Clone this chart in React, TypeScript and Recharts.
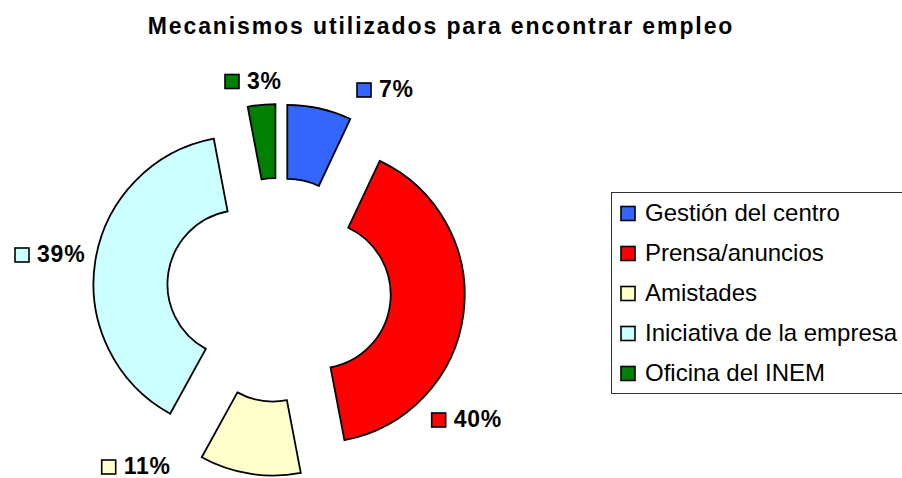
import React from 'react';
import { PieChart, Pie, Cell, Legend } from 'recharts';

// ---- data ----
const categories = [
  'Gestión del centro',
  'Prensa/anuncios',
  'Amistades',
  'Iniciativa de la empresa',
  'Oficina del INEM',
];
const values = [7, 40, 11, 39, 3];
const colors = ['#3366FF', '#FF0000', '#FFFFCC', '#CCFFFF', '#008000'];
const title = 'Mecanismos utilizados para encontrar empleo';

const data = categories.map((name, i) => ({ name, value: values[i] }));
const total = values.reduce((a, b) => a + b, 0);

// ---- layout ----
const W = 902;
const H = 478;
const CX = 279;
const CY = 290;
const R_OUT = 148;
const R_IN = 74;
const EXPLODE = 38;
const FONT = '"Liberation Sans", Arial, sans-serif';
// label group anchor (left of key square, text baseline) relative to pie centre
const LABEL_OFFSETS: [number, number][] = [
  [78, -193],
  [152.7, 137],
  [-177.3, 184],
  [-264, -28],
  [-54, -201.5],
];

let cum = 0;
const explodeOffsets = values.map((v) => {
  const mid = ((cum + v / 2) / total) * 2 * Math.PI;
  cum += v;
  return [EXPLODE * Math.sin(mid), -EXPLODE * Math.cos(mid)];
});

const makeLabel = (i: number) => (props: any) => {
  if (props.index !== i) return null;
  const [dx, dy] = LABEL_OFFSETS[i];
  const x = CX + dx;
  const y = CY + dy;
  const pct = Math.round((values[i] / total) * 100) + '%';
  return (
    <g>
      <rect x={x} y={y - 14} width={14} height={14} fill={colors[i]} stroke="#000" strokeWidth={1.6} />
      <text
        x={x + 22}
        y={y}
        fontFamily={FONT}
        fontWeight="bold"
        fontSize={23}
        letterSpacing={0.8}
        fill="#000"
      >
        {pct}
      </text>
    </g>
  );
};

const LegendBox = () => (
  <svg width={W - 611} height={203} style={{ display: 'block' }}>
    <rect x={0.5} y={0.5} width={320} height={201} fill="#fff" stroke="#333" strokeWidth={1} />
    {categories.map((c, i) => (
      <g key={c}>
        <rect x={10} y={14.5 + 40 * i} width={14} height={14} fill={colors[i]} stroke="#000" strokeWidth={1.6} />
        <text x={34} y={29 + 40 * i} fontFamily={FONT} fontSize={24} fill="#000">
          {c}
        </text>
      </g>
    ))}
  </svg>
);

export default function App() {
  return (
    <div
      style={{
        position: 'absolute',
        left: 0,
        top: 0,
        width: W,
        height: H,
        background: '#fff',
        overflow: 'hidden',
      }}
    >
      <PieChart width={W} height={H} margin={{ top: 0, right: 0, bottom: 0, left: 0 }}>
        <text
          x={441}
          y={34}
          textAnchor="middle"
          fontFamily={FONT}
          fontWeight="bold"
          fontSize={23}
          letterSpacing={1.9}
          fill="#000"
        >
          {title}
        </text>
        {categories.map((c, i) => (
          <Pie
            key={c}
            data={data}
            dataKey="value"
            nameKey="name"
            cx={CX + explodeOffsets[i][0]}
            cy={CY + explodeOffsets[i][1]}
            innerRadius={R_IN}
            outerRadius={R_OUT}
            startAngle={90}
            endAngle={-270}
            isAnimationActive={false}
            label={makeLabel(i)}
            labelLine={false}
            legendType="none"
          >
            {data.map((d, j) => (
              <Cell
                key={d.name}
                fill={j === i ? colors[j] : 'none'}
                stroke={j === i ? '#000' : 'none'}
                strokeWidth={1.8}
              />
            ))}
          </Pie>
        ))}
        <Legend
          content={() => <LegendBox />}
          wrapperStyle={{ position: 'absolute', left: 611, top: 192, width: W - 611, height: 203, bottom: 'auto', right: 'auto' }}
        />
      </PieChart>
    </div>
  );
}
